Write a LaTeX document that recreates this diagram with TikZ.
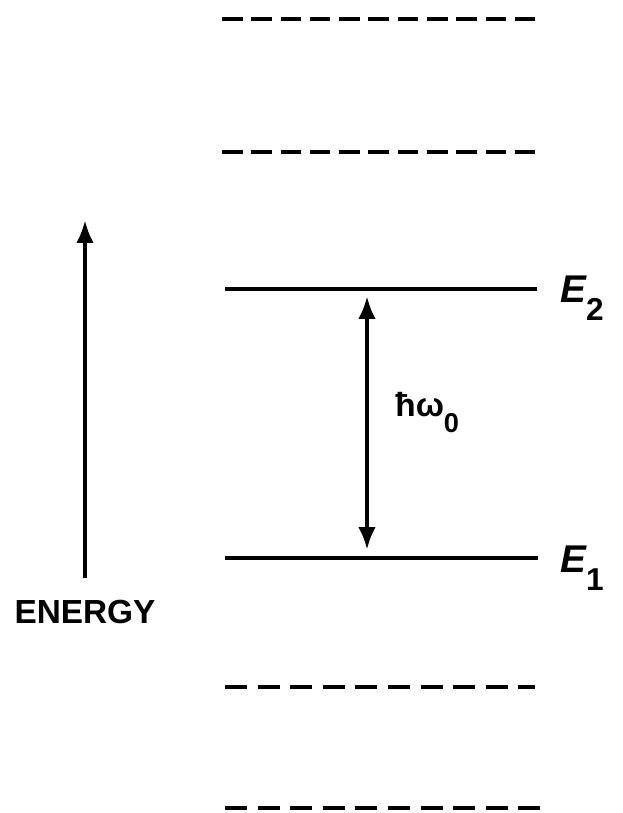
\documentclass[tikz,border=0pt]{standalone}
\usepackage{fontspec}
\setmainfont{Liberation Sans}
\usepackage{tikz}
\usetikzlibrary{arrows.meta, positioning, calc}
\tikzset{
    levelLine/.style={line width=2.2pt},
    upperDash/.style={line width=2.8pt, dash pattern=on 0.41cm off 0.176cm},
    lowerDash/.style={line width=2.8pt, dash pattern=on 0.44cm off 0.212cm},
    arrowLine/.style={line width=2.4pt},
    levelLabel/.style={anchor=base west, inner sep=0pt, font=\fontsize{22}{24}\selectfont\bfseries\itshape},
    gapLabel/.style={anchor=base west, inner sep=0pt, font=\fontsize{19}{21}\selectfont\bfseries},
    axisLabel/.style={inner sep=0pt, font=\fontsize{19}{22}\selectfont\bfseries}
}
\newcommand{\lowSub}[2]{\raisebox{-#1}{\upshape #2}}

\begin{document}
\begin{tikzpicture}[x=0.02cm, y=0.02cm, >={Latex[length=13pt, width=10pt]}]

        \useasboundingbox (0,0) rectangle (622,813);

        % Coordinates
        \coordinate (D4a) at (222,794); \coordinate (D4b) at (535,794);
        \coordinate (D3a) at (222,661); \coordinate (D3b) at (535,661);
        \coordinate (E2a) at (225,524); \coordinate (E2b) at (537,524);
        \coordinate (E1a) at (225,255); \coordinate (E1b) at (538,255);
        \coordinate (D2a) at (225,126); \coordinate (D2b) at (535,126);
        \coordinate (D1a) at (225,5);   \coordinate (D1b) at (540,5);

        \coordinate (Gtop) at (367,517);
        \coordinate (Gbot) at (367,263);
        \coordinate (Abot) at (85,235);
        \coordinate (Atop) at (85,593);

        % 1. Draw the levels
        \draw[upperDash] (D4a) -- (D4b);
        \draw[upperDash] (D3a) -- (D3b);
        \draw[levelLine] (E2a) -- (E2b);
        \draw[levelLine] (E1a) -- (E1b);
        \draw[lowerDash] (D2a) -- (D2b);
        \draw[lowerDash] (D1a) -- (D1b);

        % 2. Draw the arrows
        \draw[arrowLine, <->] (Gtop) -- (Gbot);
        \draw[arrowLine, ->] (Abot) -- (Atop);

        % 3. Draw the labels
        \node[levelLabel] (E2) at (560,510) {E\lowSub{9.7pt}{\fontsize{18}{20}\selectfont 2}};
        \node[levelLabel] (E1) at (560,240) {E\lowSub{9.7pt}{\fontsize{18}{20}\selectfont 1}};
        \node[gapLabel] (gap) at (395,396) {ħω\lowSub{9pt}{\fontsize{15.5}{17}\selectfont 0}};
        \node[axisLabel] (energy) at (85,201) {ENERGY};

    \end{tikzpicture}
\end{document}
